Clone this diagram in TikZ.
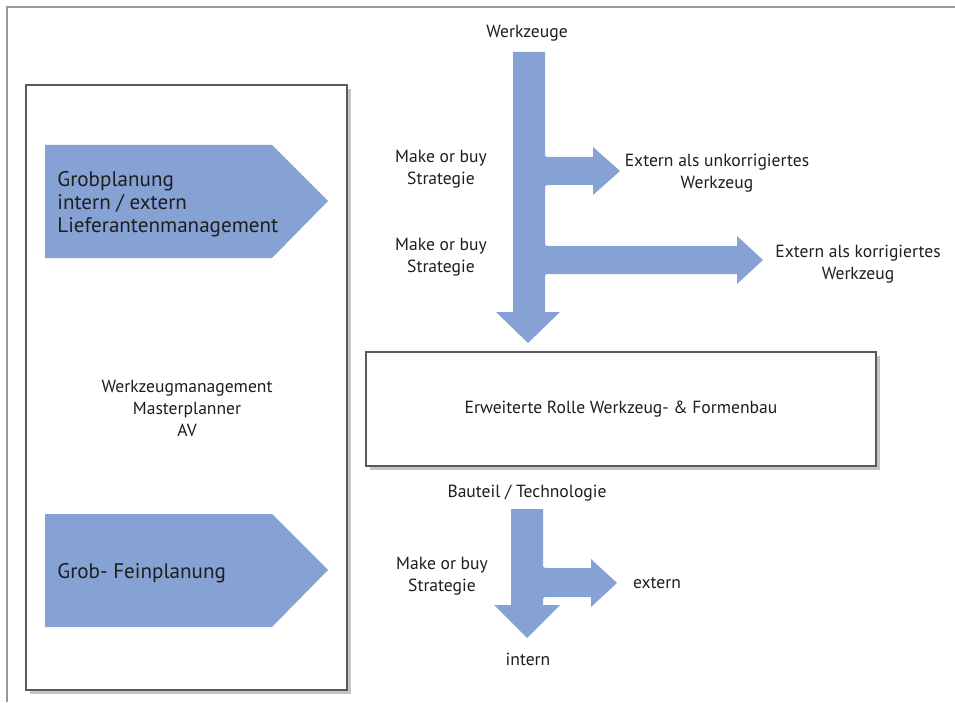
\documentclass[tikz,border=0pt]{standalone}
\usepackage{fontspec}
\setmainfont{PT Sans}
\usepackage{tikz}
\usetikzlibrary{shadows}
\definecolor{flow}{RGB}{134,161,212}
\definecolor{ink}{RGB}{30,30,30}
\definecolor{rim}{RGB}{90,90,90}
\tikzset{
  lbl/.style={text=ink, align=center, inner sep=0pt, font=\fontsize{10}{12.5}\selectfont},
  biglbl/.style={text=ink, align=left, anchor=west, inner sep=0pt, font=\fontsize{12}{13}\selectfont},
  panel/.style={draw=rim, line width=0.7pt, fill=white, drop shadow={shadow xshift=2pt, shadow yshift=-2pt, fill=black!45}},
  flowarrow/.style={fill=flow, draw=none}
}
\begin{document}
\begin{tikzpicture}[x=0.02cm, y=-0.02cm]
	  \useasboundingbox (0,0) rectangle (955,702);
	  \fill[white] (0,0) rectangle (955,702);
	  \draw[black!40, line width=1.2pt] (7,702) -- (7,7) -- (955,7);
	  % left column
	  \draw[panel] (26,85) rectangle (347,690);
	  \fill[flowarrow] (45,145) -- (272,145) -- (328,201) -- (272,258) -- (45,258) -- cycle;
	  \fill[flowarrow] (45,514) -- (272,514) -- (328,570) -- (272,627) -- (45,627) -- cycle;
	  \node[biglbl] (grob) at (57,204) {Grobplanung\\intern / extern\\Lieferantenmanagement};
	  \node[biglbl] (fein) at (57,573) {Grob- Feinplanung};
	  \node[lbl] (wzm) at (187,408) {Werkzeugmanagement\\Masterplanner\\AV};
	  % tools flow
	  \fill[flowarrow] (513,52) -- (545,52) -- (545,152) .. controls (545,157) .. (550,157)
	    -- (593,157) -- (593,147) -- (620,171) -- (593,195) -- (593,185)
	    -- (550,185) .. controls (545,185) .. (545,190) -- (545,241) .. controls (545,246) .. (550,246)
	    -- (737,246) -- (737,236) -- (763,260) -- (737,284) -- (737,274)
	    -- (550,274) .. controls (545,274) .. (545,279) -- (545,312) -- (560,312) -- (528,343)
	    -- (496,312) -- (513,312) -- cycle;
	  \node[lbl] (wz) at (527,33) {Werkzeuge};
	  \node[lbl] (mob1) at (441,169) {Make or buy\\Strategie};
	  \node[lbl] (mob2) at (441,257) {Make or buy\\Strategie};
	  \node[lbl] (unkorr) at (717,173) {Extern als unkorrigiertes\\Werkzeug};
	  \node[lbl] (korr) at (858,264) {Extern als korrigiertes\\Werkzeug};
	  % role box
	  \draw[panel] (366,352) rectangle (876,466);
	  \node[lbl] (rolle) at (621,409) {Erweiterte Rolle Werkzeug- \& Formenbau};
	  % part flow
	  \fill[flowarrow] (511,509) -- (543,509) -- (543,563) .. controls (543,568) .. (548,568)
	    -- (591,568) -- (591,559) -- (617,583) -- (591,607) -- (591,597)
	    -- (548,597) .. controls (543,597) .. (543,602) -- (543,605) -- (560,605) -- (527,638)
	    -- (494,605) -- (511,605) -- cycle;
	  \node[lbl] (bauteil) at (527,493) {Bauteil / Technologie};
	  \node[lbl] (mob3) at (442,576) {Make or buy\\Strategie};
	  \node[lbl] (ext) at (657,583) {extern};
	  \node[lbl] (int) at (528,659) {intern};
	 \end{tikzpicture}
\end{document}
